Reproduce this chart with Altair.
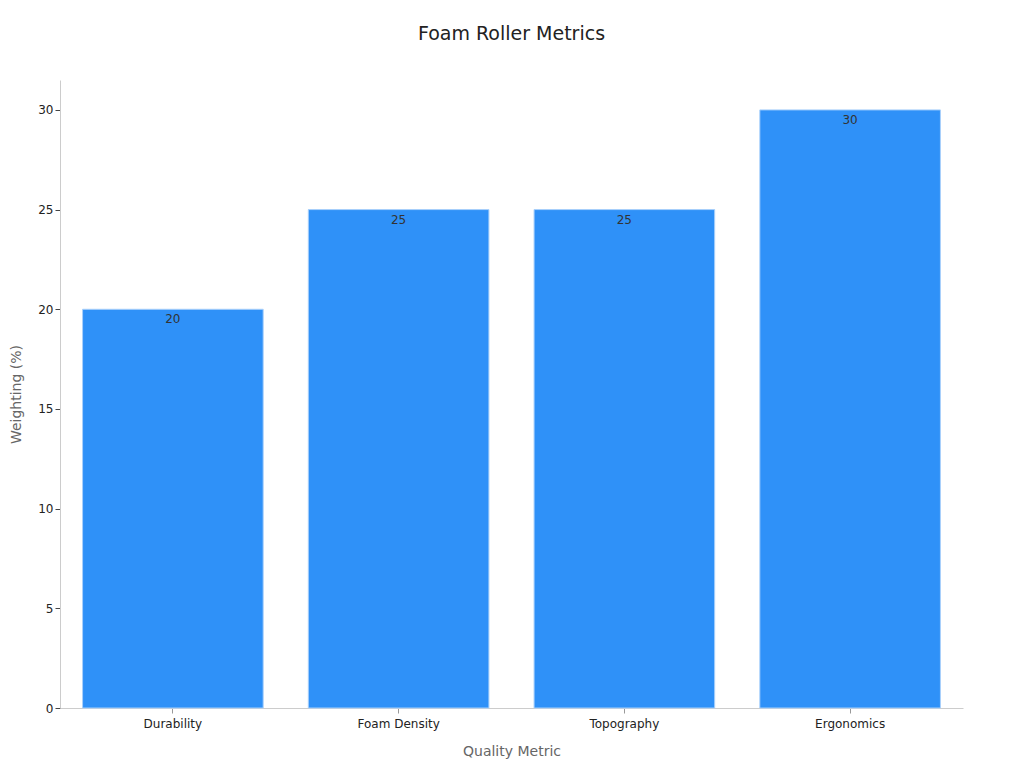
import altair as alt
import pandas as pd

categories = ["Durability", "Foam Density", "Topography", "Ergonomics"]
weights = [20, 25, 25, 30]

df = pd.DataFrame({"metric": categories, "weight": weights})

base = alt.Chart(df).encode(
    x=alt.X("metric:N", sort=categories, title="Quality Metric",
            scale=alt.Scale(paddingInner=0.2, paddingOuter=0.1),
            axis=alt.Axis(labelAngle=0, labelFontSize=12, labelColor="#222",
                          titleFontSize=14, titleColor="#666", titleFontWeight="normal",
                          titlePadding=15, domainColor="#ccc", tickColor="#999",
                          tickSize=5, labelPadding=5, labelFont="DejaVu Sans",
                          titleFont="DejaVu Sans")),
)

bars = base.mark_bar(color="#2f91f8", stroke="#a9d0fb", strokeWidth=1).encode(
    y=alt.Y("weight:Q", title="Weighting (%)",
            scale=alt.Scale(domain=[0, 31.5], nice=False),
            axis=alt.Axis(values=[0, 5, 10, 15, 20, 25, 30], grid=False,
                          labelFontSize=12, labelColor="#222", titleFontSize=14,
                          titleColor="#666", titleFontWeight="normal", titlePadding=14,
                          domainColor="#ccc", tickColor="#444", tickSize=5,
                          labelFont="DejaVu Sans", titleFont="DejaVu Sans")),
)

labels = base.mark_text(baseline="top", dy=5, fontSize=12, color="#333",
                        font="DejaVu Sans").encode(
    y="weight:Q",
    text="weight:Q",
)

chart = (bars + labels).properties(
    width=903,
    height=628,
    title=alt.TitleParams("Foam Roller Metrics", fontSize=19, fontWeight="normal",
                          color="#222", font="DejaVu Sans", anchor="middle", offset=36),
    autosize=alt.AutoSizeParams(type="none"),
    padding={"left": 52, "top": 72, "right": 53, "bottom": 52},
).configure_view(stroke=None)

chart.save("out.html", embed_options={"renderer": "svg", "actions": False})
